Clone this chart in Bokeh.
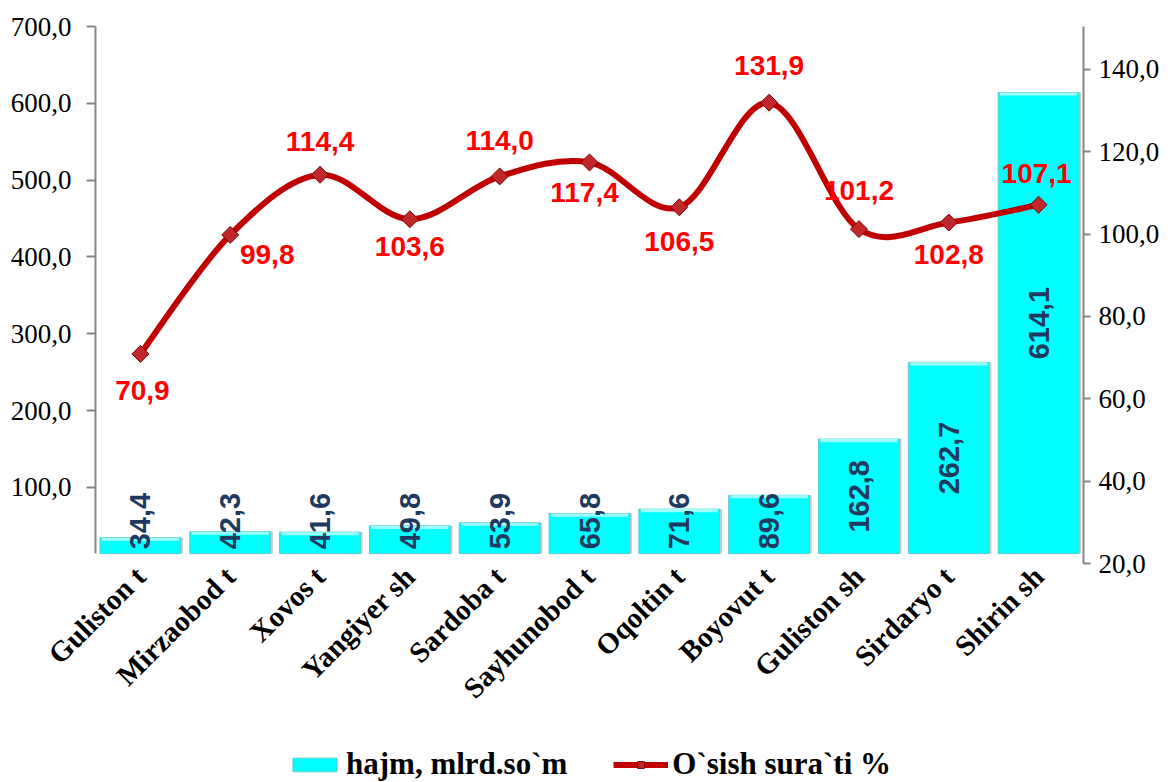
import math
from bokeh.plotting import figure
from bokeh.layouts import column
from bokeh.models import (Range1d, LinearAxis, FixedTicker, Legend, LegendItem,
                          ColumnDataSource)
from bokeh.core.properties import value
from bokeh.embed import file_html
from bokeh.resources import INLINE

# ---------------- data ----------------
categories = ["Guliston t", "Mirzaobod t", "Xovos t", "Yangiyer sh", "Sardoba t",
              "Sayhunobod t", "Oqoltin t", "Boyovut t", "Guliston sh", "Sirdaryo t",
              "Shirin sh"]
volume = [34.4, 42.3, 41.6, 49.8, 53.9, 65.8, 71.6, 89.6, 162.8, 262.7, 614.1]
growth = [70.9, 99.8, 114.4, 103.6, 114.0, 117.4, 106.5, 131.9, 101.2, 102.8, 107.1]
left_ticks = [100, 200, 300, 400, 500, 600, 700]
right_ticks = [20, 40, 60, 80, 100, 120, 140]
series_names = ["hajm, mlrd.so`m", "O`sish sura`ti %"]

# label placement (screen px offsets of growth labels relative to points)
growth_dx = [2, 37, 0, 0, 0, -5, 0, 0, 0, 0, -2]
growth_dy = [37, 20, -33, 27, -36, 30, 34, -37, -39, 32, -31]

def fmt(v):
    return f"{v:.1f}".replace(".", ",")

n = len(categories)
xs = [i + 0.5 for i in range(n)]
BAR_BASE = 13.7                 # where the bars (and the left axis line) start
LEFT_MIN, LEFT_MAX = 0.8, 700
RIGHT_MIN, RIGHT_MAX = 20.0, 150.4

BAR_FILL, BAR_LINE = "#00FFFF", "#5FC8C8"
LINE_COL, MARK_FILL, MARK_LINE = "#C00000", "#C0282B", "#7A0000"

W, H, LH = 1165, 730, 52
FRAME_BOTTOM = 563
p = figure(width=W, height=H, x_range=Range1d(0, n), y_range=Range1d(LEFT_MIN, LEFT_MAX),
           output_backend="svg", toolbar_location=None,
           min_border_left=95, min_border_right=W - 1083, min_border_top=26,
           min_border_bottom=H - FRAME_BOTTOM,
           x_axis_type=None, y_axis_type=None)
p.extra_y_ranges = {"pct": Range1d(RIGHT_MIN, RIGHT_MAX)}
p.outline_line_color = None
p.xgrid.visible = False
p.ygrid.visible = False

# ---------------- axes ----------------
xaxis = LinearAxis(ticker=FixedTicker(ticks=xs),
                   major_label_overrides={x: c for x, c in zip(xs, categories)})
xaxis.axis_line_color = None
xaxis.major_tick_line_color = None
xaxis.minor_tick_line_color = None
xaxis.major_label_orientation = math.pi / 4
xaxis.major_label_text_font = "Liberation Serif"
xaxis.major_label_text_font_style = "bold"
xaxis.major_label_text_font_size = "29px"
xaxis.major_label_text_color = "black"
xaxis.major_label_standoff = 2
p.add_layout(xaxis, "below")

laxis = LinearAxis(ticker=FixedTicker(ticks=left_ticks),
                   major_label_overrides={t: fmt(t) for t in left_ticks},
                   bounds=(BAR_BASE, LEFT_MAX))
raxis = LinearAxis(y_range_name="pct", ticker=FixedTicker(ticks=right_ticks),
                   major_label_overrides={t: fmt(t) for t in right_ticks})
for ax, tout, stand in ((laxis, 9, 15), (raxis, 7, 8)):
    ax.axis_line_color = "#868686"
    ax.axis_line_width = 2
    ax.major_tick_line_color = "#868686"
    ax.major_tick_line_width = 2
    ax.major_tick_in = 0
    ax.major_tick_out = tout
    ax.minor_tick_line_color = None
    ax.major_label_text_font = "Liberation Serif"
    ax.major_label_text_font_size = "27px"
    ax.major_label_text_color = "black"
    ax.major_label_standoff = stand
p.add_layout(laxis, "left")
p.add_layout(raxis, "right")

# ---------------- bars ----------------
shadow_src = ColumnDataSource(dict(x=[x + 0.025 for x in xs], top=volume))
p.vbar(x="x", top="top", bottom=BAR_BASE, width=0.9, source=shadow_src,
       fill_color="#BFBFBF", fill_alpha=0.8, line_color=None)
bar_src = ColumnDataSource(dict(x=xs, top=volume))
p.vbar(x="x", top="top", bottom=BAR_BASE, width=0.9, source=bar_src,
       fill_color=BAR_FILL, line_color=BAR_LINE, line_width=1)
# bevel highlight at top
p.vbar(x=xs, top=volume, bottom=[v - 4 for v in volume], width=0.86,
       fill_color="#9FFFFF", line_color=None)

lab_y = [max((BAR_BASE + v) / 2, 56) for v in volume]
p.text(x=xs, y=lab_y, text=[fmt(v) for v in volume], angle=math.pi / 2,
       text_align="center", text_baseline="middle",
       text_font=value("Liberation Sans"), text_font_style="bold",
       text_font_size="29px", text_color="#1F3A60")

# ---------------- smoothed line ----------------
seg = dict(x0=[], y0=[], x1=[], y1=[], cx0=[], cy0=[], cx1=[], cy1=[])
for i in range(n - 1):
    a = i - 1 if i > 0 else i
    d = i + 2 if i + 2 < n else i + 1
    seg["x0"].append(xs[i]); seg["y0"].append(growth[i])
    seg["x1"].append(xs[i + 1]); seg["y1"].append(growth[i + 1])
    seg["cx0"].append(xs[i] + (xs[i + 1] - xs[a]) / 6)
    seg["cy0"].append(growth[i] + (growth[i + 1] - growth[a]) / 6)
    seg["cx1"].append(xs[i + 1] - (xs[d] - xs[i]) / 6)
    seg["cy1"].append(growth[i + 1] - (growth[d] - growth[i]) / 6)
p.bezier(source=ColumnDataSource(seg), x0="x0", y0="y0", x1="x1", y1="y1",
         cx0="cx0", cy0="cy0", cx1="cx1", cy1="cy1", y_range_name="pct",
         line_color=LINE_COL, line_width=6, line_cap="round")
p.scatter(x=xs, y=growth, y_range_name="pct", marker="square", angle=math.pi / 4,
          size=12, fill_color=MARK_FILL, line_color=MARK_LINE, line_width=1)

gsrc = ColumnDataSource(dict(x=xs, y=growth, t=[fmt(g) for g in growth],
                             dx=growth_dx, dy=growth_dy))
p.text(x="x", y="y", text="t", x_offset="dx", y_offset="dy", source=gsrc,
       y_range_name="pct", text_align="center", text_baseline="middle",
       text_font=value("Liberation Sans"), text_font_style="bold",
       text_font_size="28px", text_color="#FF0000")

# ---------------- legend (separate strip) ----------------
lg = figure(width=W, height=LH, x_range=Range1d(0, 1), y_range=Range1d(0, 1),
            output_backend="svg", toolbar_location=None,
            min_border_left=0, min_border_right=0, min_border_top=0, min_border_bottom=0,
            x_axis_type=None, y_axis_type=None)
lg.outline_line_color = None
lg.xgrid.visible = False
lg.ygrid.visible = False
lb = lg.vbar(x=[-5], top=[-5], bottom=-6, width=0.1, fill_color=BAR_FILL, line_color=BAR_LINE)
ll = lg.line(x=[-5, -4], y=[-5, -5], line_color=LINE_COL, line_width=6)
lm = lg.scatter(x=[-5], y=[-5], marker="square", angle=math.pi / 4, size=13,
                fill_color=MARK_FILL, line_color=MARK_LINE)
legend = Legend(items=[LegendItem(label=series_names[0], renderers=[lb]),
                       LegendItem(label=series_names[1], renderers=[ll, lm])],
                orientation="horizontal", location=(192, 0),
                label_text_font="Liberation Serif", label_text_font_style="bold",
                label_text_font_size="31px", label_text_color="black",
                glyph_width=55, glyph_height=17, label_standoff=4, spacing=46,
                padding=0, margin=0, border_line_color=None,
                background_fill_alpha=0)
lg.add_layout(legend, "center")

open("out.html", "w").write(file_html(column(p, lg), INLINE))
